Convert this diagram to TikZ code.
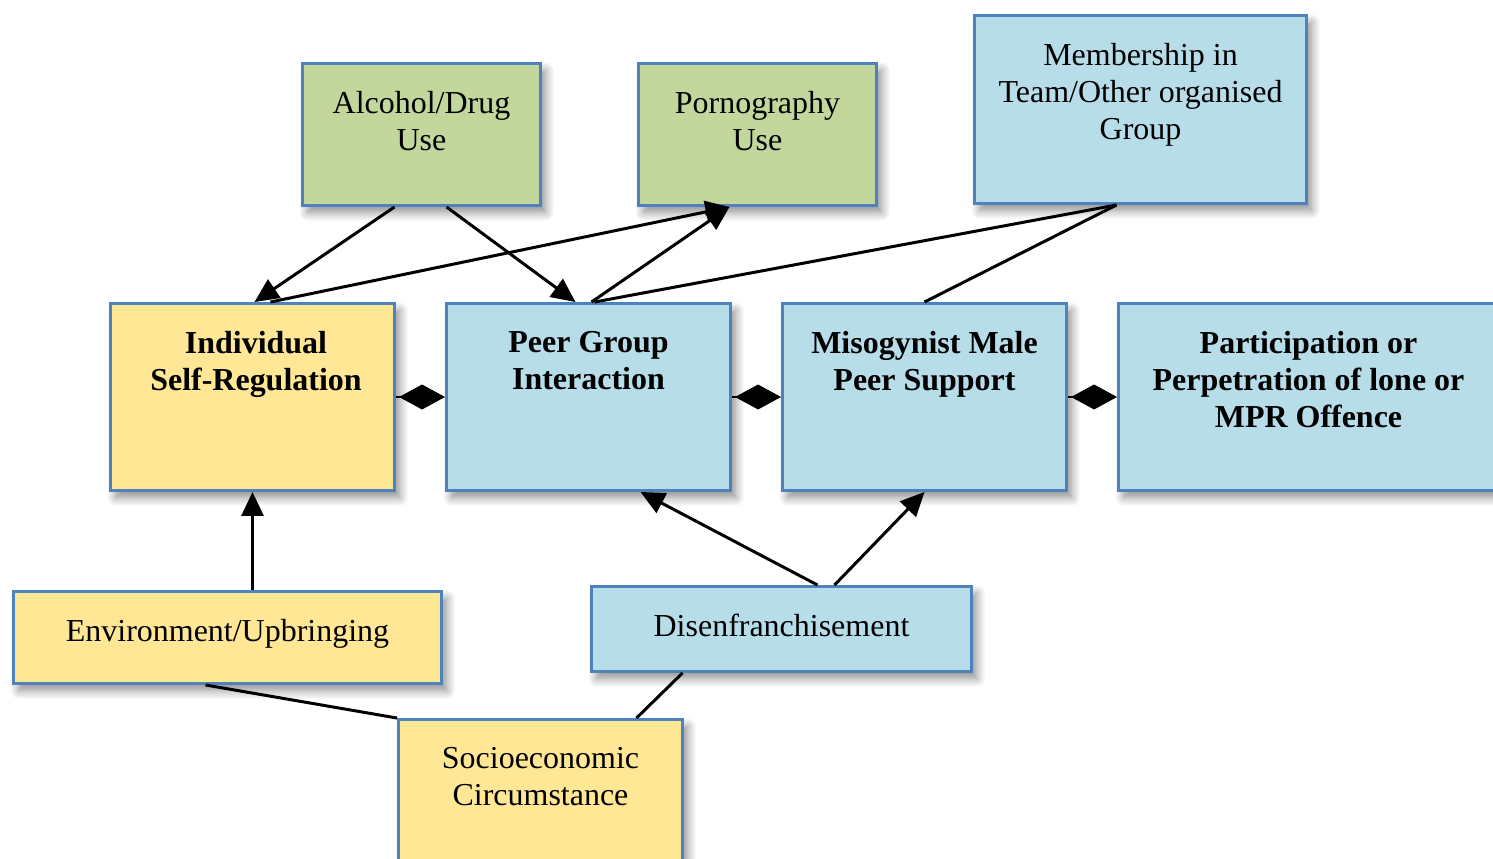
\documentclass[tikz,border=0pt]{standalone}
\usepackage{fontspec}
\setmainfont{Liberation Serif}
\usetikzlibrary{arrows.meta, calc, shadows.blur}
\definecolor{boxline}{RGB}{79, 129, 189}
\definecolor{greenfill}{RGB}{195, 214, 155}
\definecolor{bluefill}{RGB}{183, 221, 232}
\definecolor{yellowfill}{RGB}{255, 231, 150}

\begin{document}
\begin{tikzpicture}[x=0.02cm, y=-0.02cm,
  box/.style={draw=boxline, line width=1.7pt, inner sep=0pt,
    blur shadow={shadow xshift=3pt, shadow yshift=-4pt, shadow blur radius=5pt,
      shadow blur steps=12, shadow opacity=45}},
  greenbox/.style={box, fill=greenfill},
  bluebox/.style={box, fill=bluefill},
  yellowbox/.style={box, fill=yellowfill},
  lbl/.style={anchor=north, inner sep=0pt, align=center,
    font=\fontsize{18.2}{21}\selectfont},
  blbl/.style={lbl, font=\fontsize{18.2}{21}\selectfont\bfseries},
  arr/.style={line width=1.7pt, -{Triangle[length=0.48cm, width=0.44cm]}},
  link/.style={line width=1.7pt},
  dia/.style={line width=1pt, -{Diamond[length=0.92cm, width=0.5cm]}}]

  \useasboundingbox (0,0) rectangle (1493,858);

  % top row
  \node[greenbox, minimum width=4.76cm, minimum height=2.84cm] (alc) at (421.5,134.5) {};
  \node[greenbox, minimum width=4.76cm, minimum height=2.84cm] (porn) at (757.5,134.5) {};
  \node[bluebox, minimum width=6.64cm, minimum height=3.76cm] (memb) at (1140.5,109.5) {};

  % middle row
  \node[yellowbox, minimum width=5.68cm, minimum height=3.74cm] (indiv) at (252.5,397) {};
  \node[bluebox, minimum width=5.68cm, minimum height=3.74cm] (peer) at (588.5,397) {};
  \node[bluebox, minimum width=5.68cm, minimum height=3.74cm] (miso) at (924.5,397) {};
  \node[bluebox, minimum width=7.6cm, minimum height=3.74cm] (part) at (1308.5,397) {};

  % bottom rows
  \node[yellowbox, minimum width=8.56cm, minimum height=1.84cm] (env) at (227.5,637.5) {};
  \node[bluebox, minimum width=7.6cm, minimum height=1.7cm] (dis) at (781.5,629) {};
  \node[yellowbox, minimum width=5.68cm, minimum height=3.6cm] (socio) at (540.5,809.5) {};

  % labels
  \node[lbl] (alct) at ([yshift=-0.58cm]alc.north) {Alcohol/Drug\\Use};
  \node[lbl] (pornt) at ([yshift=-0.58cm]porn.north) {Pornography\\Use};
  \node[lbl] (membt) at ([yshift=-0.58cm]memb.north) {Membership in\\Team/Other organised\\Group};
  \node[blbl] (indivt) at ([yshift=-0.58cm, xshift=0.07cm]indiv.north) {Individual\\Self-Regulation};
  \node[blbl] (peert) at ([yshift=-0.58cm]peer.north) {Peer Group\\Interaction};
  \node[blbl] (misot) at ([yshift=-0.58cm]miso.north) {Misogynist Male\\Peer Support};
  \node[blbl] (partt) at ([yshift=-0.58cm]part.north) {Participation or\\Perpetration of lone or\\MPR Offence};
  \node[lbl] (envt) at ([yshift=-0.58cm]env.north) {Environment/Upbringing};
  \node[lbl] (dist) at ([yshift=-0.58cm]dis.north) {Disenfranchisement};
  \node[lbl] (sociot) at ([yshift=-0.58cm]socio.north) {Socioeconomic\\Circumstance};

  % connectors
  \draw[arr] ($(alc.south)+(-27,0)$) -- ($(indiv.north)+(2,0)$);
  \draw[arr] ($(alc.south)+(25,0)$) -- ($(peer.north)+(-13,0)$);
  \draw[arr] ($(indiv.north)+(18,0)$) -- ($(porn.south)+(-28,0)$);
  \draw[arr] ($(peer.north)+(3,0)$) -- ($(porn.south)+(-28,0)$);
  \draw[link] ($(peer.north)+(6,0)$) -- ($(memb.south)+(-24,0)$);
  \draw[link] (miso.north) -- ($(memb.south)+(-24,0)$);
  \draw[arr] (env.north -| indiv.south) -- (indiv.south);
  \draw[arr] ($(dis.north)+(36,0)$) -- ($(peer.south)+(52,0)$);
  \draw[arr] ($(dis.north)+(53,0)$) -- (miso.south);
  \draw[link] ($(env.south)+(-22,0)$) -- (socio.north west);
  \draw[link] ($(dis.south)+(-99,0)$) -- ($(socio.north)+(96,0)$);

  \draw[dia] (indiv.east) -- (peer.west);
  \draw[dia] (peer.east) -- (miso.west);
  \draw[dia] (miso.east) -- (part.west);

\end{tikzpicture}
\end{document}
